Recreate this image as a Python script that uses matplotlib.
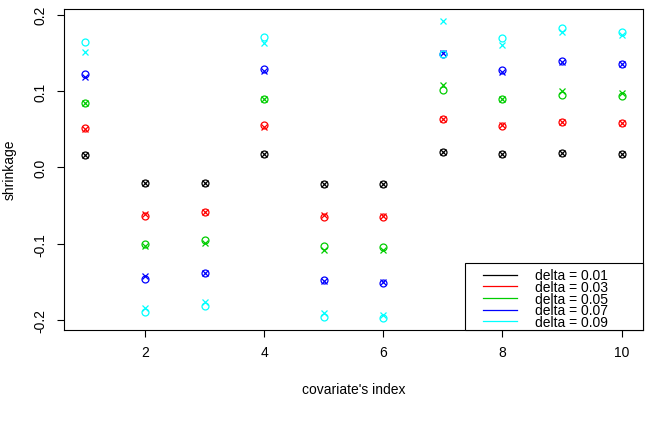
import numpy as np
import matplotlib
matplotlib.use("Agg")
import matplotlib.pyplot as plt
from matplotlib.patches import Rectangle
from matplotlib.lines import Line2D

plt.rcParams['font.family'] = ['Liberation Sans', 'DejaVu Sans']

index = [1, 2, 3, 4, 5, 6, 7, 8, 9, 10]
deltas = ["0.01", "0.03", "0.05", "0.07", "0.09"]
colors = ["black", "#FF0000", "#00CD00", "#0000FF", "#00FFFF"]

# circle markers (pch = 1)
d01_o = [0.016, -0.021, -0.020, 0.017, -0.022, -0.022, 0.020, 0.017, 0.019, 0.018]
d03_o = [0.052, -0.064, -0.059, 0.055, -0.065, -0.0655, 0.064, 0.054, 0.060, 0.058]
d05_o = [0.084, -0.100, -0.095, 0.089, -0.103, -0.104, 0.102, 0.089, 0.095, 0.093]
d07_o = [0.123, -0.146, -0.138, 0.129, -0.148, -0.151, 0.149, 0.128, 0.140, 0.136]
d09_o = [0.164, -0.190, -0.182, 0.171, -0.196, -0.197, 0.148, 0.169, 0.183, 0.178]

# cross markers (pch = 4)
d01_x = [0.016, -0.021, -0.020, 0.017, -0.022, -0.022, 0.020, 0.017, 0.019, 0.018]
d03_x = [0.050, -0.061, -0.059, 0.053, -0.063, -0.064, 0.064, 0.055, 0.060, 0.058]
d05_x = [0.084, -0.1025, -0.0987, 0.089, -0.108, -0.108, 0.1075, 0.089, 0.100, 0.098]
d07_x = [0.118, -0.142, -0.138, 0.126, -0.149, -0.150, 0.150, 0.125, 0.138, 0.136]
d09_x = [0.151, -0.184, -0.1765, 0.1625, -0.191, -0.193, 0.192, 0.161, 0.177, 0.173]

circ = [d01_o, d03_o, d05_o, d07_o, d09_o]
cross = [d01_x, d03_x, d05_x, d07_x, d09_x]

xticks = [2, 4, 6, 8, 10]
yticks = [-0.2, -0.1, 0.0, 0.1, 0.2]
ytick_labels = ["-0.2", "-0.1", "0.0", "0.1", "0.2"]

FS = 10

fig = plt.figure(figsize=(6.64, 4.27), dpi=100)
ax = fig.add_axes([64 / 664, 1 - 330.5 / 427, 579 / 664, 320.5 / 427])

for c, o, xx in zip(colors, circ, cross):
    ax.plot(index, o, linestyle='none', marker='o', markersize=5.0,
            markerfacecolor='none', markeredgecolor=c, markeredgewidth=0.9)
    ax.plot(index, xx, linestyle='none', marker='x', markersize=5.0,
            markeredgecolor=c, markeredgewidth=0.9)

ax.margins(x=0.04, y=0.04)
ax.set_xticks(xticks)
ax.set_xticklabels([str(t) for t in xticks])
ax.set_yticks(yticks)
ax.set_yticklabels(ytick_labels, rotation=90, va='center')
ax.tick_params(direction='out', length=5, width=0.8, labelsize=FS, colors='black')
ax.tick_params(axis='x', pad=6.5)
ax.tick_params(axis='y', pad=7)
for s in ax.spines.values():
    s.set_linewidth(0.8)
    s.set_color('black')

ax.set_xlabel("covariate's index", fontsize=FS)
ax.xaxis.set_label_coords(0.5, -(383 - 330.5) / 320.5)
ax.xaxis.label.set_va('top')
ax.set_ylabel("shrinkage", fontsize=FS)
ax.yaxis.set_label_coords(-(64 - 17) / 579, 0.5)

# legend box
lx0 = (465 - 64) / 579
ly1 = (330.5 - 264) / 320.5
ax.add_patch(Rectangle((lx0, 0), 1 - lx0, ly1, transform=ax.transAxes,
                       facecolor='white', edgecolor='black', linewidth=0.8,
                       zorder=5, clip_on=False))
handles = [Line2D([], [], color=c, linewidth=0.9) for c in colors]
labels = ["delta = " + d for d in deltas]
leg = ax.legend(handles, labels, loc='upper left',
                bbox_to_anchor=((483 - 64) / 579, (330.5 - 269.5) / 320.5),
                frameon=False, fontsize=FS, borderpad=0, borderaxespad=0,
                handlelength=2.45, handletextpad=1.3, labelspacing=-0.17)
leg.set_zorder(6)

fig.savefig("out.png", dpi=100)
